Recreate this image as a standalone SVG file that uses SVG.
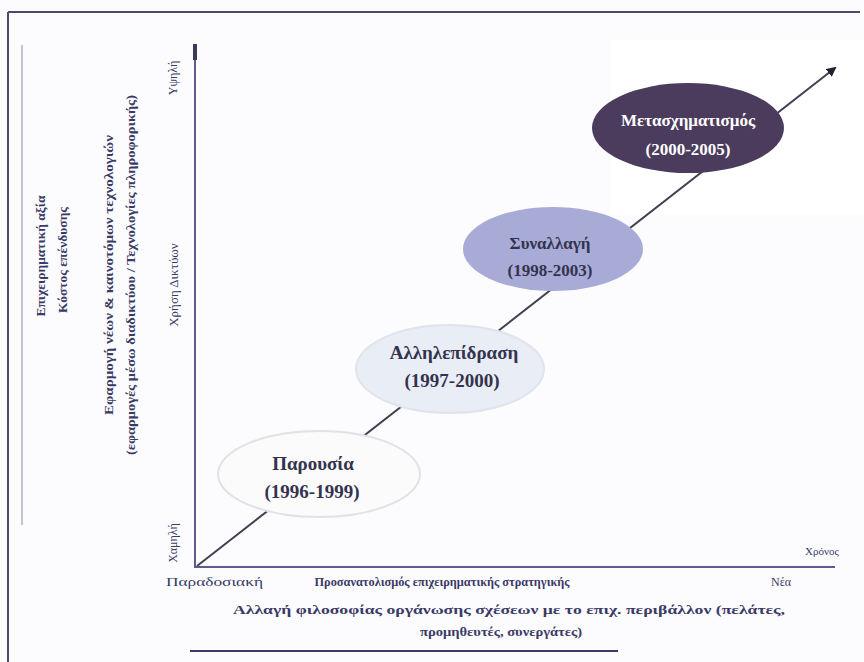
<svg xmlns="http://www.w3.org/2000/svg" width="864" height="662" viewBox="0 0 864 662">
<style>
.lbl{font-family:"Liberation Serif",serif;fill:#3a3a66;}
.b{font-weight:bold;}
.small{font-size:11px;}
.side{font-size:13.5px;}
.node{font-family:"Liberation Serif",serif;font-weight:bold;font-size:17px;text-anchor:middle;fill:#33334f;}
.big{font-size:19px;}
.axis{stroke:#5c5c8e;stroke-width:2;fill:none;}
</style>
<defs>
<marker id="arr" markerWidth="10" markerHeight="10" refX="8" refY="5" orient="auto" markerUnits="userSpaceOnUse">
<path d="M0,0 L10,5 L0,10 z" fill="#222233"/>
</marker>
</defs>
<rect x="0" y="0" width="864" height="662" fill="#fcfcfe"/>
<rect x="610" y="40" width="254" height="175" fill="#ffffff"/>
<g id="frame">
<line x1="8" y1="12" x2="860" y2="12" stroke="#4a4a6a" stroke-width="2"/>
<line x1="8" y1="12" x2="8" y2="662" stroke="#4a4a6a" stroke-width="2"/>
<line x1="22" y1="45" x2="22" y2="525" stroke="#8888a8" stroke-width="1"/>
<line x1="190" y1="651" x2="618" y2="651" stroke="#3a3a6a" stroke-width="2"/>
</g>
<g id="axes">
<line class="axis" x1="195" y1="45" x2="195" y2="567"/>
<line x1="195" y1="44" x2="195" y2="60" stroke="#3a3a5a" stroke-width="4"/>
<line class="axis" x1="194" y1="567" x2="835" y2="567"/>
</g>
<g id="connectors">
<line x1="197" y1="566" x2="835" y2="68" stroke="#404052" stroke-width="2" marker-end="url(#arr)"/>
</g>
<g id="n1">
<ellipse cx="319" cy="474" rx="101" ry="43" fill="#fbfbfc" stroke="#e2e2e6" stroke-width="2"/>
<text class="node big" x="313" y="470">Παρουσία</text>
<text class="node big" x="312" y="498">(1996-1999)</text>
</g>
<g id="n2">
<ellipse cx="450" cy="369" rx="94" ry="44" fill="#e9edf5" stroke="#dfe3ec" stroke-width="2"/>
<text class="node big" x="454" y="359">Αλληλεπίδραση</text>
<text class="node big" x="452" y="387">(1997-2000)</text>
</g>
<g id="n3">
<ellipse cx="553" cy="249" rx="90" ry="42" fill="#a9abd7"/>
<text class="node" x="550" y="249">Συναλλαγή</text>
<text class="node" x="550" y="276">(1998-2003)</text>
</g>
<g id="n4">
<ellipse cx="688" cy="128" rx="96" ry="45" fill="#4b3b5c"/>
<text class="node" x="688" y="126" style="fill:#ffffff">Μετασχηματισμός</text>
<text class="node" x="688" y="155" style="fill:#ffffff">(2000-2005)</text>
</g>
<g id="labels">
<text class="lbl b side" transform="translate(45,256) rotate(-90)" text-anchor="middle">Επιχειρηματική αξία</text>
<text class="lbl b side" transform="translate(67,260) rotate(-90)" text-anchor="middle">Κόστος επένδυσης</text>
<text class="lbl b side" transform="translate(113,275) rotate(-90)" text-anchor="middle" textLength="280" lengthAdjust="spacingAndGlyphs">Εφαρμογή νέων &amp; καινοτόμων τεχνολογιών</text>
<text class="lbl b side" transform="translate(135,275) rotate(-90)" text-anchor="middle" textLength="360" lengthAdjust="spacingAndGlyphs">(εφαρμογές μέσω διαδικτύου / Τεχνολογίες πληροφορικής)</text>
<text class="lbl" font-size="12" transform="translate(177,78) rotate(-90)" text-anchor="middle">Υψηλή</text>
<text class="lbl" font-size="13" transform="translate(178,285) rotate(-90)" text-anchor="middle">Χρήση Δικτύων</text>
<text class="lbl" font-size="12" transform="translate(177,543) rotate(-90)" text-anchor="middle">Χαμηλή</text>
<text class="lbl" font-size="12" x="166" y="586" textLength="97" lengthAdjust="spacingAndGlyphs">Παραδοσιακή</text>
<text class="lbl b" font-size="12.5" x="442" y="586" text-anchor="middle" textLength="255" lengthAdjust="spacingAndGlyphs">Προσανατολισμός επιχειρηματικής στρατηγικής</text>
<text class="lbl" font-size="12" x="771" y="586">Νέα</text>
<text class="lbl small" x="805" y="555">Χρόνος</text>
<text class="lbl b" font-size="12" x="233" y="614" textLength="552" lengthAdjust="spacingAndGlyphs">Αλλαγή φιλοσοφίας οργάνωσης σχέσεων με το επιχ. περιβάλλον (πελάτες,</text>
<text class="lbl b" font-size="12" x="420" y="636" textLength="162" lengthAdjust="spacingAndGlyphs">προμηθευτές, συνεργάτες)</text>
</g>
</svg>
